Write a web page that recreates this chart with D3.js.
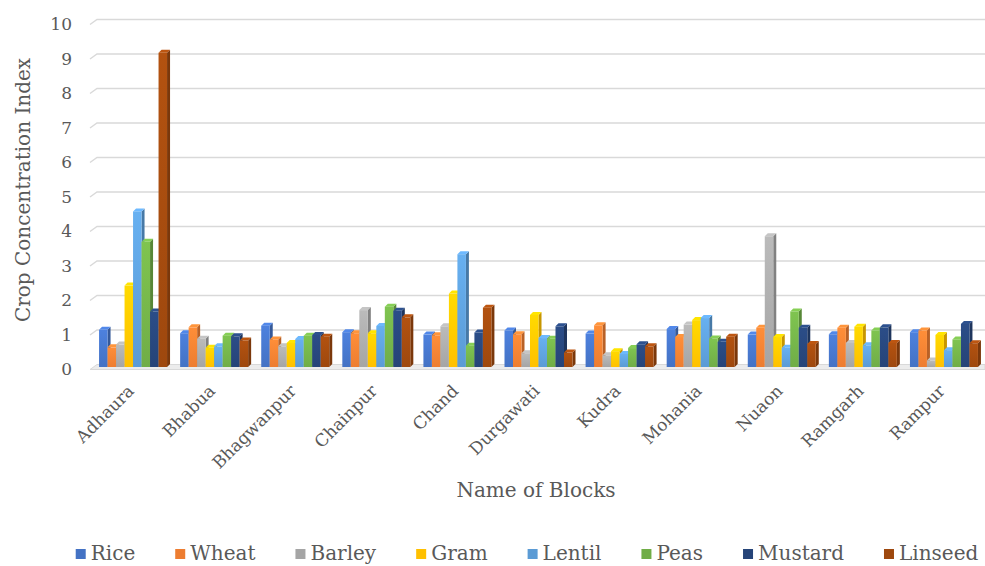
<!DOCTYPE html>
<html>
  <head>
    <meta charset="utf-8">
    <style>
      body { margin: 0; background: #fff; }
      text { font-family: "DejaVu Serif", serif; fill: #595959; }
    </style>
    <title>Crop Concentration Index</title>
  </head>
  <body>
  <div id="viz-wrapper"></div>
  <script src="https://cdnjs.cloudflare.com/ajax/libs/d3/7.8.5/d3.min.js" charset="utf-8"></script>
  <script type="text/javascript">

    var blocks = ["Adhaura", "Bhabua", "Bhagwanpur", "Chainpur", "Chand", "Durgawati",
                  "Kudra", "Mohania", "Nuaon", "Ramgarh", "Rampur"];
    var crops = ["Rice", "Wheat", "Barley", "Gram", "Lentil", "Peas", "Mustard", "Linseed"];
    var cropColors = ["#4472C4", "#ED7D31", "#A5A5A5", "#FFC000", "#5B9BD5", "#70AD47", "#264478", "#9E480E"];

    var rice    = [1.05, 0.95, 1.17, 0.98, 0.91, 1.03, 0.94, 1.07, 0.91, 0.92, 0.98];
    var wheat   = [0.54, 1.12, 0.77, 0.95, 0.89, 0.92, 1.18, 0.84, 1.11, 1.11, 1.03];
    var barley  = [0.62, 0.79, 0.57, 1.62, 1.15, 0.37, 0.31, 1.20, 3.76, 0.67, 0.16];
    var gram    = [2.33, 0.53, 0.67, 0.95, 2.10, 1.48, 0.43, 1.33, 0.84, 1.14, 0.90];
    var lentil  = [4.48, 0.57, 0.78, 1.16, 3.24, 0.81, 0.35, 1.39, 0.53, 0.60, 0.46];
    var peas    = [3.60, 0.88, 0.88, 1.72, 0.59, 0.79, 0.52, 0.80, 1.58, 1.03, 0.77];
    var mustard = [1.58, 0.86, 0.90, 1.60, 0.97, 1.15, 0.63, 0.70, 1.11, 1.12, 1.22];
    var linseed = [9.08, 0.74, 0.85, 1.41, 1.69, 0.39, 0.57, 0.85, 0.64, 0.67, 0.66];

    var yTicks = [0, 1, 2, 3, 4, 5, 6, 7, 8, 9, 10];

    var series = [rice, wheat, barley, gram, lentil, peas, mustard, linseed];

    var width = 985, height = 566;
    var depth = 3;      // 3d offset of the side / top faces
    var wallDx = 7, wallDy = 5;  // perspective of gridline ends

    var svg = d3.select("#viz-wrapper").append("svg")
                .attr("width", width)
                .attr("height", height);

    var defs = svg.append("defs");
    crops.forEach(function(c, i) {
      var g = defs.append("linearGradient")
                  .attr("id", "grad" + i)
                  .attr("x1", 0).attr("y1", 0).attr("x2", 0).attr("y2", 1);
      g.append("stop").attr("offset", "0%").attr("stop-color", d3.color(cropColors[i]).brighter(0.35));
      g.append("stop").attr("offset", "100%").attr("stop-color", cropColors[i]);
    });

    var y = d3.scaleLinear().domain([0, 10]).range([364.5, 19.5]);
    var x = d3.scaleBand().domain(blocks).range([92.5, 984.5])
              .paddingInner(0.1615).paddingOuter(0.0808);
    var xs = d3.scaleBand().domain(crops).range([0, x.bandwidth()]);

    // floor
    svg.append("polygon")
       .attr("points", [[90, y(0) + wallDy], [90 + wallDx, y(0)], [985, y(0)], [985, y(0) + wallDy]].join(" "))
       .style("fill", "#ececec")
       .style("stroke", "#d9d9d9");

    // gridlines (back wall + small front diagonal)
    var grid = svg.append("g");
    yTicks.forEach(function(t) {
      if (t === 0) return;
      grid.append("polyline")
          .attr("points", [[90, y(t) + wallDy], [90 + wallDx, y(t)], [985, y(t)]].join(" "))
          .style("fill", "none")
          .style("stroke", "#d9d9d9")
          .style("stroke-width", 1.4);
    });

    svg.append("g").selectAll("text")
       .data(yTicks).enter().append("text")
       .attr("x", 72)
       .attr("y", function(d) { return y(d) + wallDy; })
       .attr("dy", "0.35em")
       .attr("text-anchor", "end")
       .style("font-size", "17px")
       .text(function(d) { return d; });

    // bars
    var bars = svg.append("g");
    blocks.forEach(function(b, bi) {
      crops.forEach(function(c, ci) {
        var v = series[ci][bi];
        var x0 = x(b) + xs(c), w = xs.bandwidth();
        var top = y(v) + 1.5, bot = y(0) + 2.5;
        var col = d3.color(cropColors[ci]);
        var g = bars.append("g");
        g.append("polygon")
         .attr("points", [[x0 + w, top], [x0 + w + depth, top - depth], [x0 + w + depth, bot - depth], [x0 + w, bot]].join(" "))
         .style("fill", col.darker(0.7));
        g.append("polygon")
         .attr("points", [[x0, top], [x0 + depth, top - depth], [x0 + w + depth, top - depth], [x0 + w, top]].join(" "))
         .style("fill", col.brighter(0.5));
        g.append("rect")
         .attr("x", x0).attr("y", top)
         .attr("width", w).attr("height", bot - top)
         .style("fill", "url(#grad" + ci + ")");
      });
    });

    // category labels
    svg.append("g").selectAll("text")
       .data(blocks).enter().append("text")
       .attr("text-anchor", "end")
       .attr("transform", function(d) {
         return "translate(" + (x(d) + x.bandwidth() / 2 + 2) + ",392) rotate(-45)";
       })
       .style("font-size", "17px")
       .text(function(d) { return d; });

    // axis titles
    svg.append("text")
       .attr("transform", "translate(30,190) rotate(-90)")
       .attr("text-anchor", "middle")
       .style("font-size", "20px")
       .text("Crop Concentration Index");

    svg.append("text")
       .attr("x", 536).attr("y", 497)
       .attr("text-anchor", "middle")
       .style("font-size", "20px")
       .text("Name of Blocks");

    // legend
    var legend = svg.append("g");
    var items = crops.map(function(c, i) {
      var g = legend.append("g");
      g.append("rect").attr("x", 0).attr("y", 549).attr("width", 10).attr("height", 10)
       .style("fill", cropColors[i]);
      var t = g.append("text").attr("x", 15).attr("y", 560)
       .style("font-size", "20px").text(c);
      return { g: g, w: 15 + t.node().getComputedTextLength() };
    });
    var gap = 40;
    var total = d3.sum(items, function(d) { return d.w; }) + gap * (items.length - 1);
    var lx = 527 - total / 2;
    items.forEach(function(it) {
      it.g.attr("transform", "translate(" + lx + ",0)");
      lx += it.w + gap;
    });

  </script>
  </body>
</html>
